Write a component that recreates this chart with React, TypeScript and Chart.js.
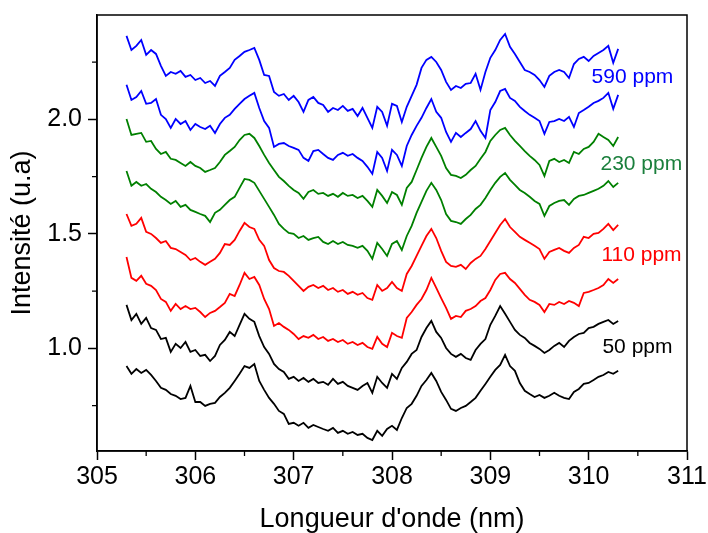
import React, { useEffect, useRef } from 'react';
import { Chart, registerables } from 'chart.js';

Chart.register(...registerables);

const FONT = '"Liberation Sans", Arial, Helvetica, sans-serif';

// Wavelength grid (nm)
const wavelengths = [
  305.30, 305.35, 305.40, 305.45, 305.50, 305.55, 305.60, 305.65, 305.70, 305.75,
  305.80, 305.85, 305.90, 305.95, 306.00, 306.05, 306.10, 306.15, 306.20, 306.25,
  306.30, 306.35, 306.40, 306.45, 306.50, 306.55, 306.60, 306.65, 306.70, 306.75,
  306.80, 306.85, 306.90, 306.95, 307.00, 307.05, 307.10, 307.15, 307.20, 307.25,
  307.30, 307.35, 307.40, 307.45, 307.50, 307.55, 307.60, 307.65, 307.70, 307.75,
  307.80, 307.85, 307.90, 307.95, 308.00, 308.05, 308.10, 308.15, 308.20, 308.25,
  308.30, 308.35, 308.40, 308.45, 308.50, 308.55, 308.60, 308.65, 308.70, 308.75,
  308.80, 308.85, 308.90, 308.95, 309.00, 309.05, 309.10, 309.15, 309.20, 309.25,
  309.30, 309.35, 309.40, 309.45, 309.50, 309.55, 309.60, 309.65, 309.70, 309.75,
  309.80, 309.85, 309.90, 309.95, 310.00, 310.05, 310.10, 310.15, 310.20, 310.25,
  310.30,
];

// 50 ppm (lower black trace)
const black50a = [
  0.923, 0.889, 0.910, 0.893, 0.906, 0.884, 0.858, 0.828, 0.819, 0.801,
  0.793, 0.779, 0.784, 0.836, 0.766, 0.766, 0.749, 0.758, 0.762, 0.788,
  0.806, 0.828, 0.858, 0.889, 0.923, 0.915, 0.932, 0.858, 0.819, 0.784,
  0.758, 0.727, 0.714, 0.670, 0.675, 0.662, 0.675, 0.653, 0.666, 0.657,
  0.648, 0.640, 0.653, 0.631, 0.640, 0.627, 0.635, 0.622, 0.627, 0.609,
  0.600, 0.640, 0.618, 0.648, 0.662, 0.644, 0.696, 0.740, 0.758, 0.793,
  0.836, 0.862, 0.893, 0.858, 0.810, 0.775, 0.736, 0.727, 0.740, 0.749,
  0.766, 0.784, 0.815, 0.845, 0.876, 0.906, 0.928, 0.972, 0.923, 0.902,
  0.849, 0.815, 0.801, 0.788, 0.797, 0.784, 0.793, 0.806, 0.793, 0.784,
  0.779, 0.810, 0.823, 0.845, 0.849, 0.862, 0.876, 0.884, 0.897, 0.889,
  0.902,
];

// 50 ppm (upper black trace)
const black50b = [
  1.190, 1.124, 1.151, 1.107, 1.133, 1.089, 1.081, 1.041, 1.046, 0.985,
  1.020, 1.002, 1.028, 0.985, 0.993, 0.967, 0.972, 0.945, 0.967, 1.015,
  1.037, 1.072, 1.054, 1.103, 1.151, 1.129, 1.116, 1.054, 1.006, 0.976,
  0.932, 0.910, 0.897, 0.867, 0.876, 0.858, 0.871, 0.854, 0.867, 0.849,
  0.854, 0.841, 0.867, 0.845, 0.854, 0.836, 0.828, 0.819, 0.836, 0.849,
  0.806, 0.876, 0.849, 0.828, 0.889, 0.867, 0.915, 0.941, 0.976, 0.993,
  1.050, 1.089, 1.120, 1.072, 1.046, 1.002, 0.976, 0.963, 0.976, 0.958,
  0.950, 0.993, 1.020, 1.041, 1.103, 1.142, 1.185, 1.151, 1.116, 1.081,
  1.059, 1.046, 1.024, 1.011, 0.998, 0.980, 0.993, 1.011, 1.024, 1.006,
  1.033, 1.050, 1.063, 1.068, 1.089, 1.094, 1.107, 1.116, 1.124, 1.107,
  1.120,
];

// 110 ppm (lower red trace)
const red110a = [
  1.399, 1.308, 1.295, 1.317, 1.282, 1.273, 1.255, 1.216, 1.203, 1.164,
  1.194, 1.172, 1.185, 1.172, 1.177, 1.159, 1.137, 1.155, 1.164, 1.181,
  1.199, 1.238, 1.229, 1.277, 1.330, 1.303, 1.312, 1.277, 1.216, 1.172,
  1.098, 1.111, 1.094, 1.081, 1.063, 1.041, 1.054, 1.046, 1.059, 1.041,
  1.050, 1.033, 1.041, 1.028, 1.037, 1.020, 1.028, 1.015, 1.024, 1.006,
  0.998, 1.050, 1.020, 1.006, 1.068, 1.054, 1.046, 1.133, 1.159, 1.190,
  1.216, 1.255, 1.308, 1.264, 1.220, 1.177, 1.129, 1.142, 1.137, 1.164,
  1.172, 1.185, 1.207, 1.220, 1.255, 1.299, 1.325, 1.330, 1.303, 1.286,
  1.260, 1.234, 1.212, 1.203, 1.190, 1.159, 1.194, 1.190, 1.203, 1.194,
  1.207, 1.199, 1.185, 1.242, 1.247, 1.255, 1.264, 1.277, 1.303, 1.286,
  1.303,
];

// 110 ppm (upper red trace)
const red110b = [
  1.587, 1.535, 1.544, 1.570, 1.509, 1.500, 1.482, 1.461, 1.469, 1.439,
  1.434, 1.421, 1.408, 1.386, 1.395, 1.378, 1.365, 1.378, 1.391, 1.417,
  1.456, 1.452, 1.474, 1.513, 1.548, 1.530, 1.522, 1.474, 1.448, 1.386,
  1.351, 1.338, 1.334, 1.317, 1.295, 1.273, 1.251, 1.269, 1.277, 1.264,
  1.273, 1.255, 1.264, 1.247, 1.255, 1.238, 1.247, 1.234, 1.242, 1.220,
  1.212, 1.277, 1.251, 1.264, 1.290, 1.264, 1.251, 1.325, 1.360, 1.404,
  1.448, 1.491, 1.522, 1.482, 1.426, 1.378, 1.360, 1.356, 1.365, 1.347,
  1.373, 1.391, 1.404, 1.434, 1.469, 1.504, 1.539, 1.565, 1.530, 1.509,
  1.487, 1.474, 1.461, 1.448, 1.434, 1.391, 1.421, 1.430, 1.439, 1.426,
  1.417, 1.439, 1.452, 1.487, 1.482, 1.500, 1.504, 1.522, 1.544, 1.517,
  1.539,
];

// 230 ppm (lower green trace)
const green230a = [
  1.775, 1.710, 1.727, 1.710, 1.718, 1.697, 1.683, 1.662, 1.648, 1.631,
  1.644, 1.618, 1.627, 1.605, 1.596, 1.587, 1.579, 1.552, 1.592, 1.605,
  1.627, 1.648, 1.662, 1.701, 1.740, 1.736, 1.723, 1.688, 1.653, 1.618,
  1.583, 1.544, 1.522, 1.504, 1.500, 1.482, 1.491, 1.474, 1.482, 1.487,
  1.465, 1.456, 1.469, 1.456, 1.465, 1.452, 1.448, 1.439, 1.448, 1.426,
  1.391, 1.461, 1.434, 1.404, 1.456, 1.469, 1.430, 1.491, 1.535, 1.592,
  1.640, 1.688, 1.723, 1.692, 1.648, 1.587, 1.557, 1.552, 1.544, 1.565,
  1.583, 1.609, 1.627, 1.657, 1.692, 1.723, 1.749, 1.766, 1.736, 1.714,
  1.692, 1.679, 1.662, 1.644, 1.631, 1.579, 1.622, 1.635, 1.644, 1.648,
  1.627, 1.653, 1.666, 1.670, 1.679, 1.688, 1.697, 1.710, 1.731, 1.705,
  1.723,
];

// 230 ppm (upper green trace)
const green230b = [
  2.002, 1.932, 1.937, 1.941, 1.902, 1.906, 1.871, 1.849, 1.858, 1.828,
  1.823, 1.810, 1.797, 1.814, 1.797, 1.788, 1.771, 1.779, 1.788, 1.814,
  1.845, 1.862, 1.880, 1.910, 1.932, 1.937, 1.919, 1.884, 1.845, 1.810,
  1.779, 1.749, 1.731, 1.710, 1.692, 1.679, 1.653, 1.683, 1.692, 1.675,
  1.679, 1.666, 1.675, 1.662, 1.679, 1.666, 1.670, 1.657, 1.666, 1.644,
  1.618, 1.692, 1.666, 1.635, 1.683, 1.670, 1.627, 1.701, 1.727, 1.779,
  1.832, 1.880, 1.919, 1.880, 1.841, 1.788, 1.758, 1.753, 1.744, 1.758,
  1.779, 1.797, 1.828, 1.858, 1.906, 1.932, 1.954, 1.963, 1.932, 1.906,
  1.884, 1.862, 1.841, 1.823, 1.801, 1.753, 1.819, 1.828, 1.814, 1.823,
  1.810, 1.858, 1.849, 1.871, 1.880, 1.902, 1.937, 1.923, 1.910, 1.884,
  1.923,
];

// 590 ppm (lower blue trace)
const blue590a = [
  2.151, 2.085, 2.098, 2.124, 2.068, 2.072, 2.089, 2.020, 2.002, 1.963,
  2.002, 1.980, 1.993, 1.954, 1.980, 1.967, 1.958, 1.972, 1.941, 1.980,
  2.007, 2.020, 2.046, 2.068, 2.089, 2.103, 2.116, 2.050, 1.993, 1.963,
  1.880, 1.893, 1.897, 1.884, 1.876, 1.867, 1.832, 1.819, 1.862, 1.867,
  1.849, 1.832, 1.823, 1.845, 1.854, 1.841, 1.849, 1.832, 1.819, 1.793,
  1.762, 1.858, 1.832, 1.775, 1.867, 1.845, 1.797, 1.884, 1.932, 1.972,
  2.007, 2.050, 2.089, 2.033, 2.007, 1.945, 1.902, 1.941, 1.923, 1.941,
  1.958, 1.993, 1.950, 1.919, 2.041, 2.076, 2.124, 2.133, 2.094, 2.081,
  2.055, 2.037, 2.020, 2.007, 1.993, 1.937, 1.989, 1.993, 2.002, 1.993,
  2.011, 1.967, 2.028, 2.041, 2.055, 2.072, 2.081, 2.094, 2.116, 2.046,
  2.107,
];

// 590 ppm (upper blue trace)
const blue590b = [
  2.365, 2.303, 2.321, 2.347, 2.282, 2.303, 2.286, 2.234, 2.190, 2.207,
  2.199, 2.212, 2.186, 2.194, 2.172, 2.181, 2.159, 2.168, 2.146, 2.190,
  2.207, 2.225, 2.260, 2.277, 2.295, 2.303, 2.312, 2.260, 2.194, 2.190,
  2.120, 2.103, 2.111, 2.085, 2.103, 2.076, 2.033, 2.085, 2.098, 2.072,
  2.063, 2.033, 2.050, 2.041, 2.059, 2.037, 2.046, 2.015, 2.050, 2.007,
  1.963, 2.055, 2.033, 1.972, 2.068, 2.059, 1.989, 2.055, 2.103, 2.151,
  2.225, 2.260, 2.273, 2.251, 2.216, 2.164, 2.129, 2.146, 2.137, 2.155,
  2.159, 2.199, 2.129, 2.207, 2.269, 2.303, 2.347, 2.373, 2.317, 2.286,
  2.251, 2.216, 2.207, 2.194, 2.172, 2.142, 2.190, 2.207, 2.216, 2.207,
  2.181, 2.242, 2.264, 2.273, 2.255, 2.277, 2.290, 2.303, 2.321, 2.247,
  2.308,
];

const xMajorTicks = [305, 306, 307, 308, 309, 310, 311];
const xMinorTicks = [305.5, 306.5, 307.5, 308.5, 309.5, 310.5];
const yMajorTicks = [1.0, 1.5, 2.0];
const yMinorTicks = [0.75, 1.25, 1.75, 2.25];

const concentrationLabels = ['590 ppm', '230 ppm', '110 ppm', '50 ppm'];

const BLUE = '#0000FF';
const GREEN = '#008000';
const RED = '#FF0000';
const BLACK = '#000000';

// annotation anchors (data coordinates, left edge / vertical middle)
const labelAnchors = [
  { x: 310.03, y: 2.186, color: BLUE },
  { x: 310.12, y: 1.806, color: '#1A7F3C' },
  { x: 310.13, y: 1.408, color: RED },
  { x: 310.14, y: 1.007, color: BLACK },
];

const toPoints = (ys: number[]) => ys.map((y, i) => ({ x: wavelengths[i], y }));

const framePlugin = {
  id: 'frameAndLabels',
  afterDraw(chart: any) {
    const { ctx, chartArea: a, scales } = chart;
    ctx.save();
    ctx.strokeStyle = '#000';
    ctx.lineWidth = 1.5;
    ctx.strokeRect(a.left, a.top, a.right - a.left, a.bottom - a.top);
    ctx.lineWidth = 1.3;
    ctx.beginPath();
    xMinorTicks.forEach((v) => {
      const px = scales.x.getPixelForValue(v);
      ctx.moveTo(px, a.bottom);
      ctx.lineTo(px, a.bottom + 5);
    });
    yMinorTicks.forEach((v) => {
      const py = scales.y.getPixelForValue(v);
      ctx.moveTo(a.left - 5, py);
      ctx.lineTo(a.left, py);
    });
    ctx.stroke();
    ctx.font = `21px ${FONT}`;
    ctx.textAlign = 'left';
    ctx.textBaseline = 'middle';
    concentrationLabels.forEach((t, i) => {
      const an = labelAnchors[i];
      ctx.fillStyle = an.color;
      ctx.fillText(t, scales.x.getPixelForValue(an.x), scales.y.getPixelForValue(an.y));
    });
    ctx.restore();
  },
};

export default function App() {
  const ref = useRef<HTMLCanvasElement | null>(null);

  useEffect(() => {
    if (!ref.current) return;
    const ds = (data: number[], color: string) => ({
      data: toPoints(data),
      borderColor: color,
      backgroundColor: color,
      borderWidth: 1.8,
      pointRadius: 0,
      tension: 0,
      fill: false,
    });
    const chart = new Chart(ref.current, {
      type: 'line',
      data: {
        datasets: [
          ds(black50a, BLACK),
          ds(black50b, BLACK),
          ds(red110a, RED),
          ds(red110b, RED),
          ds(green230a, GREEN),
          ds(green230b, GREEN),
          ds(blue590a, BLUE),
          ds(blue590b, BLUE),
        ],
      },
      options: {
        responsive: false,
        animation: false,
        layout: { padding: { left: 0, top: 15, right: 21, bottom: 0 } },
        plugins: { legend: { display: false }, tooltip: { enabled: false } },
        scales: {
          x: {
            type: 'linear',
            min: 305,
            max: 311,
            afterBuildTicks: (s: any) => {
              s.ticks = xMajorTicks.map((v) => ({ value: v }));
            },
            afterFit: (s: any) => {
              s.height = 82;
              s.paddingLeft = 0;
              s.paddingRight = 0;
            },
            border: { display: true, color: '#000', width: 1.5 },
            grid: {
              drawOnChartArea: false,
              drawTicks: true,
              tickLength: 9,
              tickColor: '#000',
              tickWidth: 1.5,
            },
            ticks: {
              color: '#000',
              font: { family: FONT, size: 25 },
              padding: 2,
              maxRotation: 0,
              autoSkip: false,
              callback: (v: any) => String(v),
            },
            title: {
              display: true,
              text: "Longueur d'onde (nm)",
              color: '#000',
              font: { family: FONT, size: 27, lineHeight: 1 },
              padding: { top: 0, bottom: 0 },
            },
          },
          y: {
            type: 'linear',
            min: 0.552,
            max: 2.456,
            afterBuildTicks: (s: any) => {
              s.ticks = yMajorTicks.map((v) => ({ value: v }));
            },
            afterFit: (s: any) => {
              s.width = 97;
              s.paddingTop = 0;
              s.paddingBottom = 0;
            },
            border: { display: true, color: '#000', width: 1.5 },
            grid: {
              drawOnChartArea: false,
              drawTicks: true,
              tickLength: 9,
              tickColor: '#000',
              tickWidth: 1.5,
            },
            ticks: {
              color: '#000',
              font: { family: FONT, size: 25 },
              padding: 6,
              autoSkip: false,
              callback: (v: any) => Number(v).toFixed(1),
            },
            title: {
              display: true,
              text: 'Intensité (u.a)',
              color: '#000',
              font: { family: FONT, size: 27, lineHeight: 1 },
              padding: { top: 9, bottom: 0 },
            },
          },
        },
      },
      plugins: [framePlugin],
    });
    return () => chart.destroy();
  }, []);

  return (
    <div style={{ position: 'fixed', left: 0, top: 0, width: 708, height: 533, background: '#fff' }}>
      <canvas ref={ref} width={708} height={533} style={{ display: 'block' }} />
    </div>
  );
}
